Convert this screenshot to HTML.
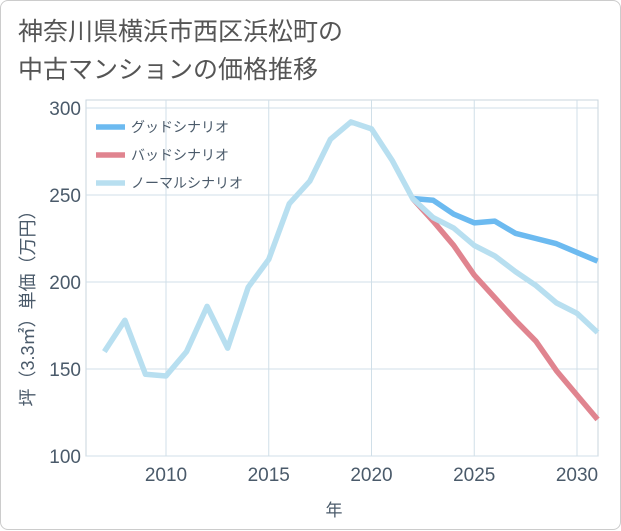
<!DOCTYPE html>
<html><head><meta charset="utf-8">
<style>
body{margin:0;background:#fff;}
#card{position:absolute;left:0;top:0;width:619px;height:528px;border:1px solid #ccc;border-radius:8px;background:#fff;font-family:"Liberation Sans","Noto Sans CJK JP",sans-serif;}
#title{position:absolute;left:17px;top:12px;font-size:25px;line-height:38px;color:#555;white-space:nowrap;}
svg{position:absolute;left:0;top:0;}
</style></head><body>
<div id="card">
<div id="title">神奈川県横浜市西区浜松町の<br>中古マンションの価格推移</div>
<svg id="chart" width="621" height="530"></svg>
</div>
<script>
const years=[2007,2008,2009,2010,2011,2012,2013,2014,2015,2016,2017,2018,2019,2020,2021,2022,2023,2024,2025,2026,2027,2028,2029,2030,2031];
const normalVals=[160,178,147,146,160,186,162,197,213,245,258,282,292,288,270,248,237,231,221,215,206,198,188,182,171];
const futureYears=[2022,2023,2024,2025,2026,2027,2028,2029,2030,2031];
const goodVals=[248,247,239,234,235,228,225,222,217,212];
const badVals=[248,235,221,204,191,178,166,149,135,121];
const xTicks=[2010,2015,2020,2025,2030];
const yTicks=[100,150,200,250,300];
const seriesNames=["グッドシナリオ","バッドシナリオ","ノーマルシナリオ"];
const L=85,R=597,T=107,B=455;
const x=v=>165+(v-2010)*(576-165)/20;
const y=v=>B-(v-100)*(B-T)/200;
const svg=document.getElementById('chart');
const NS='http://www.w3.org/2000/svg';
function mk(tag,attrs){const e=document.createElementNS(NS,tag);for(const k in attrs)e.setAttribute(k,attrs[k]);svg.appendChild(e);return e;}
let frame=mk('rect',{x:L,y:T-8,width:R-L,height:B-T+8,fill:'none',stroke:'#c8d4de'});


xTicks.forEach(t=>{
 const l=mk('line',{x1:x(t),x2:x(t),y1:T-8,y2:B,stroke:'#d0dfe8'});
 
 
 const tx=mk('text',{x:x(t),y:B+25,'text-anchor':'middle','font-size':19,fill:'#4a5a6a'});
 tx.textContent=t;
 
 
});
yTicks.forEach(t=>{
 const l=mk('line',{x1:L,x2:R,y1:y(t),y2:y(t),stroke:'#d0dfe8'});
 
 
 const tx=mk('text',{x:L-5,y:y(t)+7,'text-anchor':'end','font-size':19,fill:'#4a5a6a'});
 tx.textContent=t;
 
 
});
let xt=mk('text',{x:333,y:515,'text-anchor':'middle','font-size':17,fill:'#4a5a6a'});
xt.textContent='年';


let yt=mk('text',{x:0,y:0,'text-anchor':'middle','font-size':18,fill:'#4a5a6a',transform:'translate(33,303) rotate(-90)'});
yt.textContent='坪（3.3㎡）単価（万円）';


function line(xs,vs,color,name){
 const p=mk('polyline',{points:xs.map((t,i)=>x(t)+','+y(vs[i])).join(' '),fill:'none',stroke:color,'stroke-width':5.5,'stroke-linejoin':'round'});
 
 
}
line(futureYears,goodVals,'#6cbaf0','good-scenario-line');
line(futureYears,badVals,'#e0848f','bad-scenario-line');
line(years,normalVals,'#b8dff0','normal-scenario-line');
const colors=['#6cbaf0','#e0848f','#b8dff0'];
seriesNames.forEach((n,i)=>{
 const yy=126+i*28;
 const l=mk('line',{x1:95,x2:124,y1:yy,y2:yy,stroke:colors[i],'stroke-width':5.5});
 
 
 const tx=mk('text',{x:130,y:yy+5,'font-size':14,fill:'#4a5a6a'});
 tx.textContent=n;
 
 
});
</script>
</body></html>
